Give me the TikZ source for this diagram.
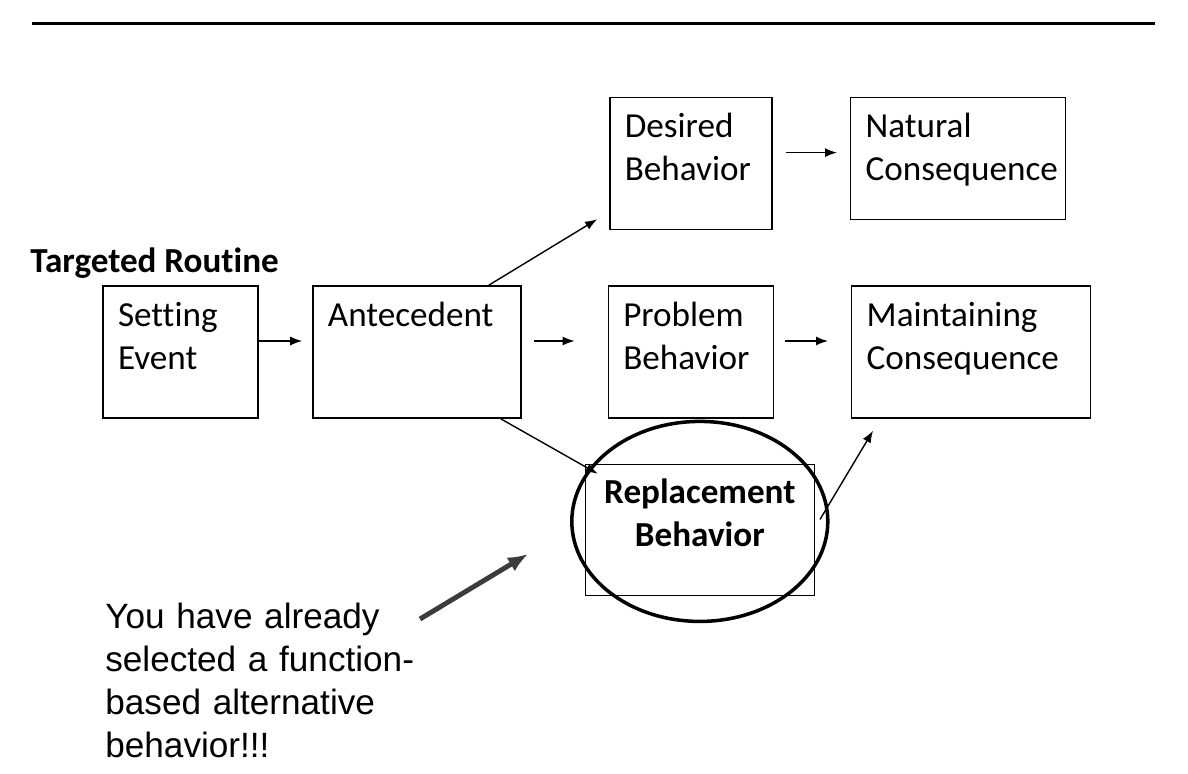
\documentclass[tikz,border=0pt]{standalone}
\usepackage{fontspec}
\setmainfont{Carlito}[Ligatures=NoCommon]
\newfontfamily\notefont{Liberation Sans}
\usetikzlibrary{positioning,arrows.meta,calc}
\definecolor{pointergray}{HTML}{3C3C3C}

\begin{document}
\begin{tikzpicture}[node distance=1.1cm, >={Latex[length=2.4mm,width=1.8mm]},
    stage/.style={rectangle, draw, line width=0.8pt, inner xsep=0.3cm, inner ysep=0pt,
      align=left, text height=0.8cm, text depth=1.84cm, font=\fontsize{20}{24.5}\selectfont},
    link/.style={->, line width=0.8pt},
    pointer/.style={-{Latex[length=4mm,width=3.2mm]}, line width=2.8pt, draw=pointergray, fill=pointergray}]
  \useasboundingbox (0,0) rectangle (23.76,-15.46);
  \draw[line width=1.6pt] (0.64,-0.47) -- (23.1,-0.47);

  \node (routine) [anchor=base west, inner sep=0pt, font=\fontsize{20}{24.5}\selectfont\bfseries]
    at (0.6,-5.44) {Targeted Routine};

  \node (setting) [stage, text width=2.5cm] at (3.61,-7.04) {Setting\\ Event};
  \node (ante) [stage, text width=3.56cm, right=1.07cm of setting] {Antecedent};
  \node (problem) [stage, text width=2.7cm, right=1.72cm of ante] {Problem\\ Behavior};
  \node (maint) [stage, text width=4.18cm, right=1.54cm of problem] {Maintaining\\ Consequence};
  \node (desired) [stage, text width=2.64cm, above=1.1cm of problem] {Desired\\ Behavior};
  \node (natural) [stage, text width=3.7cm, text height=0.8cm, text depth=1.64cm,
    right=1.55cm of desired.north east, anchor=north west] {Natural\\ Consequence};
  \node (repl) [stage, text width=3.98cm, align=center, text height=0.78cm, text depth=1.84cm,
    font=\fontsize{20}{24.5}\selectfont\bfseries, below=0.9cm of problem, xshift=0.18cm]
    {Replacement\\ Behavior};

  \draw[line width=2pt] ([yshift=0.17cm]repl.center) ellipse (2.56cm and 2cm);

  \draw[link] ([yshift=0.22cm]setting.east) -- ([xshift=-0.2cm,yshift=0.22cm]ante.west);
  \draw[link] ([xshift=0.24cm,yshift=0.22cm]ante.east) -- ([xshift=-0.66cm,yshift=0.22cm]problem.west);
  \draw[link] ([xshift=0.22cm,yshift=0.22cm]problem.east) -- ([xshift=-0.46cm,yshift=0.22cm]maint.west);
  \draw[link] ([xshift=0.26cm,yshift=0.22cm]desired.east) -- ($(desired.east -| natural.west)+(-0.26,0.22)$);
  \draw[link] ([xshift=-0.66cm]ante.north east) -- ([xshift=-0.24cm,yshift=0.22cm]desired.south west);
  \draw[link] ([xshift=-0.42cm]ante.south east) -- ([xshift=0.26cm,yshift=-0.2cm]repl.north west);
  \draw[link] ([xshift=0.1cm,yshift=0.21cm]repl.east) -- ([xshift=0.44cm,yshift=-0.24cm]maint.south west);

  \node (note) [anchor=base west, inner sep=0pt, text width=7cm, align=left,
    font=\notefont\fontsize{20}{24.6}\selectfont] at (2.1,-12.56)
    {You have already\\ selected a function-\\ based alternative\\ behavior!!!};

  % pointer towards the replacement behavior
  \coordinate (tail) at (8.4,-12.38);
  \coordinate (aim) at (10.56,-11.08);
  \draw[pointer] (tail) -- (aim);
\end{tikzpicture}
\end{document}
